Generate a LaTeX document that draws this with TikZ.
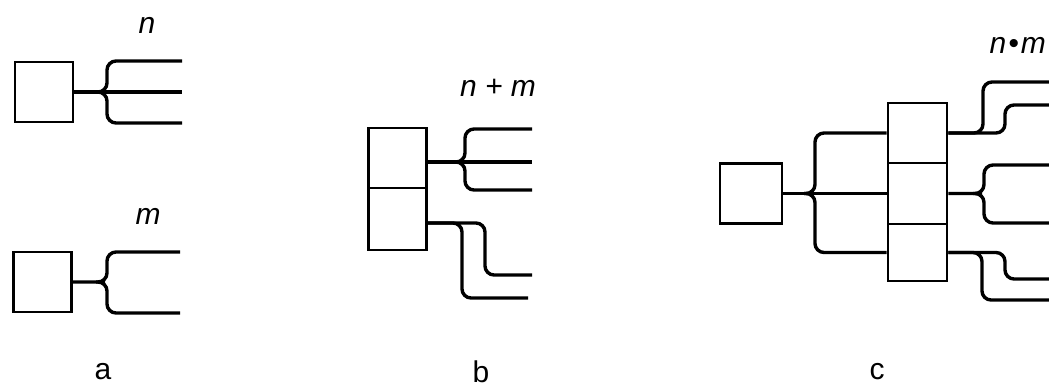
\documentclass[tikz,border=0pt]{standalone}
\usepackage{fontspec}
\setmainfont{Liberation Sans}
\begin{document}
\begin{tikzpicture}[x=1pt,y=-1pt,
  blk/.style={draw,line width=2.6pt,inner sep=0pt,minimum width=#1,minimum height=60pt},
  blk/.default=58pt,
  wire/.style={line width=3.4pt,rounded corners=9pt},
  var/.style={font=\fontsize{30}{34}\selectfont\itshape,inner sep=0pt},
  partlabel/.style={font=\fontsize{30}{34}\selectfont,inner sep=0pt}]
\useasboundingbox (0,0) rectangle (1049,388);
\clip (0,0) rectangle (1049,388);
% ---- a ----
\node[blk] (a1) at (44,92) {};
\node[blk] (a2) at (42.5,282) {};
\coordinate (ja1) at (96,92);
\coordinate (ea1t) at (182,61);
\coordinate (ea1m) at (182,92);
\coordinate (ea1b) at (182,123);
\draw[wire] (a1.east) -- (ea1m);
\draw[wire] (ja1) -- (107,92) -- (107,61) -- (ea1t);
\draw[wire] (ja1) -- (107,92) -- (107,123) -- (ea1b);
\coordinate (ja2) at (96,282);
\coordinate (ea2t) at (180,252);
\coordinate (ea2b) at (180,313);
\draw[wire] (a2.east) -- (ja2) -- (107,282) -- (107,252) -- (ea2t);
\draw[wire] (ja2) -- (107,282) -- (107,313) -- (ea2b);
\node[var] (ln) at (147,25) {n};
\node[var] (lm) at (148,216) {m};
\node[partlabel] (la) at (103,372) {a};
% ---- b ----
\node[blk] (b1) at (397.5,158) {};
\node[blk,minimum height=62pt] (b2) at (397.5,219) {};
\coordinate (jb1) at (455,162);
\coordinate (eb1t) at (532,129);
\coordinate (eb1m) at (532,162);
\coordinate (eb1b) at (532,190);
\draw[wire] ([yshift=-4pt]b1.east) -- (eb1m);
\draw[wire] (jb1) -- (465,162) -- (465,129) -- (eb1t);
\draw[wire] (jb1) -- (465,162) -- (465,190) -- (eb1b);
\coordinate (eb2a) at (532,275);
\coordinate (eb2b) at (528,298);
\draw[wire] ([yshift=-4pt]b2.east) -- (485,223) -- (485,275) -- (eb2a);
\draw[wire] ([yshift=-4pt]b2.east) -- (462,223) -- (462,298) -- (eb2b);
\node[var] (lnm) at (498,88) {n + m};
\node[partlabel] (lb) at (481,372) {b};
% ---- c ----
\node[blk,minimum width=62pt] (c0) at (751,193.5) {};
\node[blk,minimum width=59pt] (c1) at (917.5,133) {};
\node[blk,minimum width=59pt,minimum height=61pt] (c2) at (917.5,193.5) {};
\node[blk,minimum width=59pt,minimum height=57pt] (c3) at (917.5,252.5) {};
\coordinate (jc0) at (804,193.5);
\draw[wire] (c0.east) -- (c2.west);
\draw[wire] (jc0) -- (815,193.5) -- (815,133) -- (c1.west);
\draw[wire] (jc0) -- (815,193.5) -- (815,252.5) -- (c3.west);
% top right
\coordinate (ec1a) at (1055,82);
\coordinate (ec1b) at (1055,105);
\draw[wire] (c1.east) -- (983,133) -- (983,82) -- (ec1a);
\draw[wire] (c1.east) -- (1005,133) -- (1005,105) -- (ec1b);
% middle right
\coordinate (jc2) at (973,193.5);
\coordinate (ec2a) at (1055,165);
\coordinate (ec2b) at (1055,223);
\draw[wire] (c2.east) -- (jc2) -- (984,193.5) -- (984,165) -- (ec2a);
\draw[wire] (jc2) -- (984,193.5) -- (984,223) -- (ec2b);
% bottom right
\coordinate (ec3a) at (1055,279);
\coordinate (ec3b) at (1055,300);
\draw[wire] (c3.east) -- (1005,252.5) -- (1005,279) -- (ec3a);
\draw[wire] (c3.east) -- (982,252.5) -- (982,300) -- (ec3b);
\node[var,anchor=east] (lnxm) at (1046,45) {n\kern2pt\textbullet\kern2pt m};
\node[partlabel] (lc) at (877,372) {c};
\end{tikzpicture}
\end{document}
